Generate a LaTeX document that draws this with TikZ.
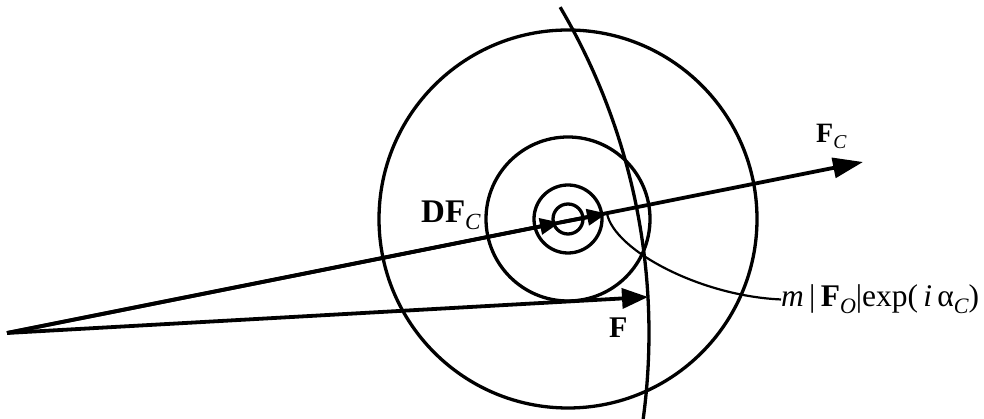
\documentclass[tikz,border=0pt]{standalone}
\usepackage{fontspec}
\setmainfont{Liberation Serif}
\usetikzlibrary{arrows.meta}
\newcommand{\subsc}[1]{\raisebox{-0.2em}{\fontsize{0.7\dimexpr\fontdimen6\font\relax}{10}\selectfont\itshape #1}}
\begin{document}
\begin{tikzpicture}[x=1pt,y=1pt,
  ln/.style={line width=3.3pt},
  vec/.style={line width=3.8pt, -{Triangle[length=30pt,width=20pt]}},
  smallvec/.style={line width=3.8pt, -{Triangle[length=20pt,width=16pt]}},
  leader/.style={line width=2.2pt},
  lbl/.style={inner sep=0pt, anchor=base west}]
\useasboundingbox (0,0) rectangle (984,419);
\coordinate (O) at (7,86);
\coordinate (C) at (568,200);
\coordinate (Fc) at (863,257);
\coordinate (D) at (560,196.5);
\coordinate (E) at (607,205.5);
\coordinate (F) at (648,122);
% circles
\draw[ln] (C) circle[radius=15];
\draw[ln] (C) circle[radius=34];
\draw[ln] (C) circle[radius=82];
\draw[ln] (C) circle[radius=189];
% arc |F| about origin
\draw[ln] (O) ++(-7.7:642pt) arc[start angle=-7.7, end angle=30.5, radius=642pt];
% vectors
\draw[vec] (O) -- (Fc);
\draw[smallvec] (O) -- (D);
\draw[smallvec] (D) -- (E);
\draw[vec,-{Triangle[length=26pt,width=20pt]}] (O) -- (F);
% labels
\node[lbl, font=\fontsize{28}{32}\selectfont] (lFc) at (816,276) {\textbf{F}\subsc{C}};
\node[lbl, font=\fontsize{33}{38}\selectfont] (lDF) at (421,196) {\textbf{DF}\subsc{C}};
\node[lbl, font=\fontsize{30}{34}\selectfont] (lF) at (609,81) {\textbf{F}};
\node[lbl, font=\fontsize{31.5}{36}\selectfont] (lm) at (781,112) {\textit{m}\,|\,\textbf{F}\subsc{O}|exp(\,\textit{i}\,α\subsc{C})};
% leader
\draw[leader] (E) .. controls (614,169) and (700,123) .. (lm.west);
\end{tikzpicture}
\end{document}
